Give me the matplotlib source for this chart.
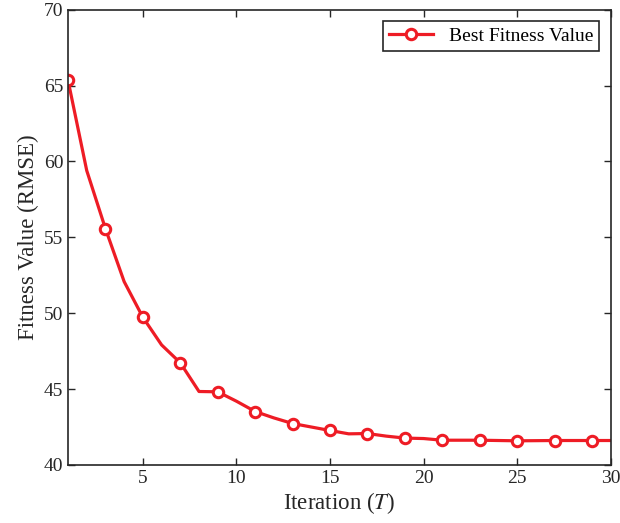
import matplotlib
matplotlib.use("Agg")
import matplotlib.pyplot as plt

plt.rcParams['font.family'] = ['Liberation Serif', 'DejaVu Serif']
plt.rcParams['mathtext.fontset'] = 'stix'

iterations = list(range(1, 31))
fitness = [65.35, 59.4, 55.57, 52.08, 49.73, 47.91, 46.73, 44.84, 44.82, 44.2,
           43.52, 43.1, 42.73, 42.5, 42.27, 42.05, 42.07, 41.9, 41.77, 41.74,
           41.63, 41.63, 41.63, 41.61, 41.59, 41.6, 41.61, 41.61, 41.61, 41.61]

fig = plt.figure(figsize=(6.2, 5.23), dpi=100)
ax = fig.add_axes([0.1097, 0.111, 0.8753, 0.8705])
red = '#EE1C25'
ax.plot(iterations, fitness, color=red, lw=2.3, marker='o', markevery=2,
        markersize=7.5, markerfacecolor='white', markeredgecolor=red,
        markeredgewidth=2.2, label='Best Fitness Value')
ax.set_xlim(1, 30)
ax.set_ylim(40, 70)
ax.set_xticks([5, 10, 15, 20, 25, 30])
ax.set_yticks([40, 45, 50, 55, 60, 65, 70])
ax.tick_params(direction='in', top=True, right=True, labelsize=14, length=5, width=1, colors='#262626')
for s in ax.spines.values():
    s.set_linewidth(1.2)
    s.set_color('#262626')
ax.set_xlabel('Iteration ($T$)', fontsize=16.5, color='#262626', labelpad=2)
ax.set_ylabel('Fitness Value (RMSE)', fontsize=16.5, color='#262626', labelpad=3)
leg = ax.legend(loc='upper right', fontsize=14, fancybox=False, edgecolor='#262626',
                framealpha=1, borderpad=0.3, handlelength=2.3, borderaxespad=0.6)
leg.get_frame().set_linewidth(1.2)
fig.savefig('out.png', dpi=100)
